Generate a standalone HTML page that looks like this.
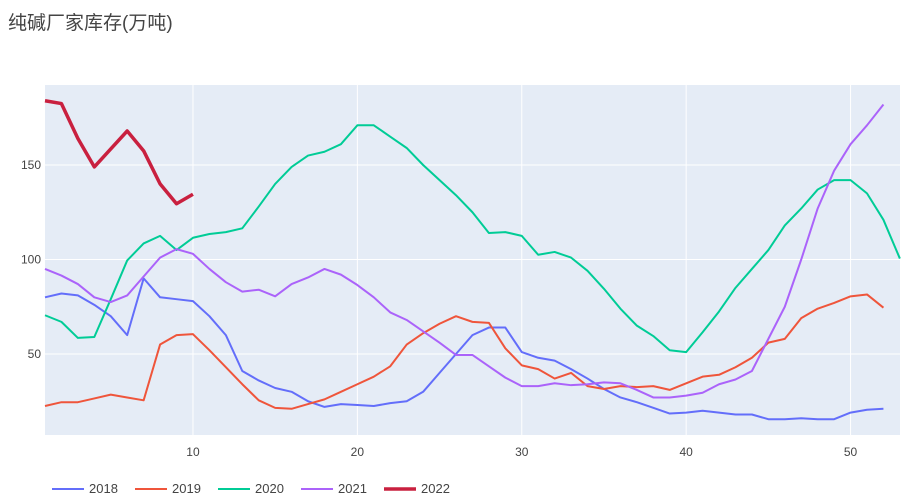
<!DOCTYPE html>
<html><head><meta charset="utf-8"><style>
body{margin:0;background:#fff;font-family:"Liberation Sans","Noto Sans CJK SC",sans-serif}
</style></head><body>
<svg width="922" height="503" id="c" style="display:block">
<text x="8" y="29" font-size="19" fill="#444" font-family="Liberation Sans, Noto Sans CJK SC, sans-serif">纯碱厂家库存(万吨)</text>
<rect x="45" y="85" width="855" height="350" fill="#e5ecf6"/>
<g id="grid"></g><g id="series"></g><g id="legend"></g>
</svg>
<script>
const years=["2018","2019","2020","2021","2022"];
const colors=["#636efa","#ef553b","#00cc96","#ab63fa","#c9203f"];
const s2018=[80,82,81,76,70,60,90,80,79,78,70,60,41,36,32,30,25,22,23.5,23,22.5,24,25,30,40,50,60,64,64,51,48,46.5,42,37,31.5,27,24.5,21.5,18.5,19,20,19,18,18,15.5,15.5,16,15.5,15.5,19,20.5,21];
const s2019=[22.5,24.5,24.5,26.5,28.5,27,25.5,55,60,60.5,52,43,34,25.5,21.5,21,23.5,26,30,34,38,43.5,55,61,66,70,67,66.5,53,44,42,37,40,33,31.5,33,32.5,33,31,34.5,38,39,43,48,56,58,69,74,77,80.5,81.5,74.5];
const s2020=[70.5,67,58.5,59,79,99.5,108.5,112.5,105,111.5,113.5,114.5,116.5,128,140,149,155,157,161,171,171,165,159,150,142,134,125,114,114.5,112.5,102.5,104,101,94,84.5,74,65,59.5,52,51,61.5,72.5,85,95,105,118,127,137,142,142,135,121,100.5];
const s2021=[95,91.5,87,80,77.5,81,91,101,105.5,103,95,88,83,84,80.5,87,90.5,95,92,86.5,80,72,68,62,56,49.5,49.5,43.5,37.5,33,33,34.5,33.5,34,35,34.5,31,27,27,28,29.5,34,36.5,41,58,75,100,127,147,161,171,182];
const s2022=[184,182.5,164,149,158.5,168,157.5,140,129.5,134.5];
const xTicks=[10,20,30,40,50];
const yTicks=[50,100,150];
const X=w=>45+(w-1)*16.44, Y=v=>448.5-v*1.89;
const NS="http://www.w3.org/2000/svg";
function mk(t,a,p){const e=document.createElementNS(NS,t);for(const k in a)e.setAttribute(k,a[k]);p.appendChild(e);return e;}
const g=document.getElementById('grid');
xTicks.forEach(t=>{const l=mk('line',{x1:X(t),x2:X(t),y1:85,y2:435,stroke:'#fff','stroke-width':1},g);


const tx=mk('text',{x:X(t),y:456,'text-anchor':'middle','font-size':12,fill:'#444'},g);tx.textContent=t;

});
yTicks.forEach(t=>{const l=mk('line',{x1:45,x2:900,y1:Y(t),y2:Y(t),stroke:'#fff','stroke-width':1},g);


const tx=mk('text',{x:41,y:Y(t)+4,'text-anchor':'end','font-size':12,fill:'#444'},g);tx.textContent=t;

});
const all=[s2018,s2019,s2020,s2021,s2022];
const sg=document.getElementById('series');
all.forEach((d,i)=>{const p=mk('polyline',{points:d.map((v,j)=>X(j+1)+','+Y(v)).join(' '),fill:'none',stroke:colors[i],'stroke-width':i==4?3.5:2,'stroke-linejoin':'round'},sg);

});
const lg=document.getElementById('legend');
years.forEach((y,i)=>{const x0=52+i*83;
const gr=mk('g',{},lg);


mk('line',{x1:x0,x2:x0+32,y1:489,y2:489,stroke:colors[i],'stroke-width':i==4?3.5:2},gr);
const t=mk('text',{x:x0+37,y:493,'font-size':13,fill:'#444'},gr);t.textContent=y;});
</script>
</body></html>
